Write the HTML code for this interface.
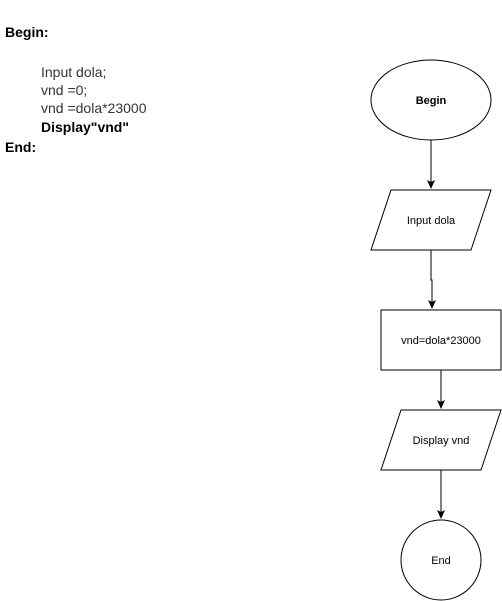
<!DOCTYPE html>
<html><head><meta charset="utf-8"><style>
html,body{margin:0;padding:0;background:#fff;}
svg{display:block;}
</style></head><body>
<svg width="502" height="601" xmlns="http://www.w3.org/2000/svg" font-family="Liberation Sans, Arial, sans-serif">
<defs><marker id="a" markerWidth="10" markerHeight="10" refX="8" refY="5" orient="auto" markerUnits="userSpaceOnUse"><path d="M0,1 L9,5 L0,9 L2,5 z" fill="#000"/></marker></defs>
<g font-size="14" fill="#000">
<text x="5" y="37" font-weight="bold">Begin:</text>
<text x="41" y="77" fill="#333">Input dola;</text>
<text x="41" y="95" fill="#333">vnd =0;</text>
<text x="41" y="113" fill="#333">vnd =dola*23000</text>
<text x="41" y="132" font-weight="bold">Display"vnd"</text>
<text x="5" y="152" font-weight="bold">End:</text>
</g>
<g fill="#fff" stroke="#000" stroke-width="1">
<ellipse cx="431" cy="100" rx="60" ry="40"/>
<polygon points="391,190 491,190 471,250 371,250"/>
<rect x="381" y="310" width="120" height="60"/>
<polygon points="401,410 501,410 481,470 381,470"/>
<circle cx="441" cy="560" r="40"/>
</g>
<g stroke="#000" stroke-width="1" fill="none">
<line x1="431" y1="140" x2="431" y2="188" marker-end="url(#a)"/>
<polyline points="431,250 431,280 432,280 432,308" marker-end="url(#a)"/>
<line x1="441" y1="370" x2="441" y2="408" marker-end="url(#a)"/>
<line x1="441" y1="470" x2="441" y2="518" marker-end="url(#a)"/>
</g>
<g font-size="11" text-anchor="middle" fill="#000">
<text x="431" y="104" font-weight="bold">Begin</text>
<text x="431" y="224">Input dola</text>
<text x="441" y="344">vnd=dola*23000</text>
<text x="441" y="444">Display vnd</text>
<text x="441" y="564">End</text>
</g>
</svg>
</body></html>
